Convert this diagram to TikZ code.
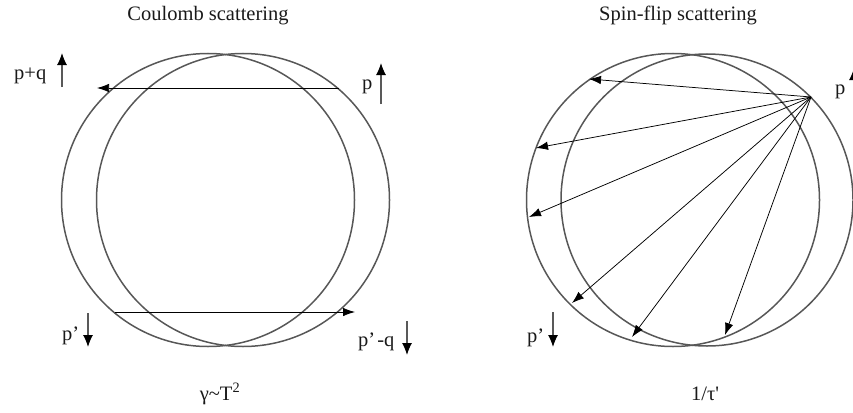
\documentclass[tikz,border=0pt]{standalone}
\usepackage{fontspec}
\setmainfont{Liberation Serif}
\usetikzlibrary{arrows.meta}
\begin{document}
\begin{tikzpicture}[x=1pt,y=-1pt,
  circ/.style={draw=black!66,line width=1.5pt},
  scat/.style={line width=0.75pt,-{Latex[length=12pt,width=8.5pt]}},
  spin/.style={line width=1.1pt,black!65,-{Latex[length=12pt,width=10pt,color=black]}},
  lbl/.style={font=\fontsize{20.5}{24}\selectfont,inner sep=0pt,text=black!90},
  every node/.style={lbl}]
\useasboundingbox (0,0) rectangle (853,412);
\clip (0,0) rectangle (853,412);
% ---------- Coulomb scattering ----------
\node[anchor=base] (t1) at (208,21) {Coulomb scattering};
\draw[circ] (208,200) circle[radius=146.5pt];
\draw[circ] (243,200) circle[radius=146.5pt];
\coordinate (a1s) at (339,88);
\coordinate (a1e) at (97,88);
\coordinate (a2s) at (115,312);
\coordinate (a2e) at (355,312);
\draw[scat] (a1s) -- (a1e);
\draw[scat] (a2s) -- (a2e);
\node[anchor=base west] (pq) at (14,79) {p+q};
\coordinate (pqa) at (62,87); \coordinate (pqb) at (62,53);
\draw[spin] (pqa) -- (pqb);
\node[anchor=base west] (p1) at (362,89) {p};
\coordinate (p1a) at (381,104); \coordinate (p1b) at (381,63);
\draw[spin] (p1a) -- (p1b);
\node[anchor=base west] (pp1) at (62,340) {p’};
\coordinate (pp1a) at (88,313); \coordinate (pp1b) at (88,347);
\draw[spin] (pp1a) -- (pp1b);
\node[anchor=base west] (ppq) at (358,346) {p’\kern2pt-q};
\coordinate (ppqa) at (407,321); \coordinate (ppqb) at (407,355);
\draw[spin] (ppqa) -- (ppqb);
\node[anchor=base] (g1) at (220,400) {γ\char"007E T\textsuperscript{2}};
% ---------- Spin-flip scattering ----------
\node[anchor=base] (t2) at (678,21) {Spin-flip scattering};
\draw[circ] (673,200) circle[radius=146.5pt];
\draw[circ] (707,200) circle[radius=146pt];
\coordinate (o) at (811,97);
\coordinate (f1) at (589,79);
\coordinate (f2) at (536,148);
\coordinate (f3) at (529,217);
\coordinate (f4) at (572,303);
\coordinate (f5) at (632,337);
\coordinate (f6) at (725,335);
\foreach \t in {f1,f2,f3,f4,f5,f6} \draw[scat] (o) -- (\t);
\node[anchor=base west] (p2) at (835,94) {p};
\coordinate (p2a) at (854,109); \coordinate (p2b) at (854,68);
\draw[spin] (p2a) -- (p2b);
\node[anchor=base west] (pp2) at (527,342) {p’};
\coordinate (pp2a) at (553,312); \coordinate (pp2b) at (553,347);
\draw[spin] (pp2a) -- (pp2b);
\node[anchor=base] (g2) at (705,400) {1/τ\textquotesingle};
\end{tikzpicture}
\end{document}
